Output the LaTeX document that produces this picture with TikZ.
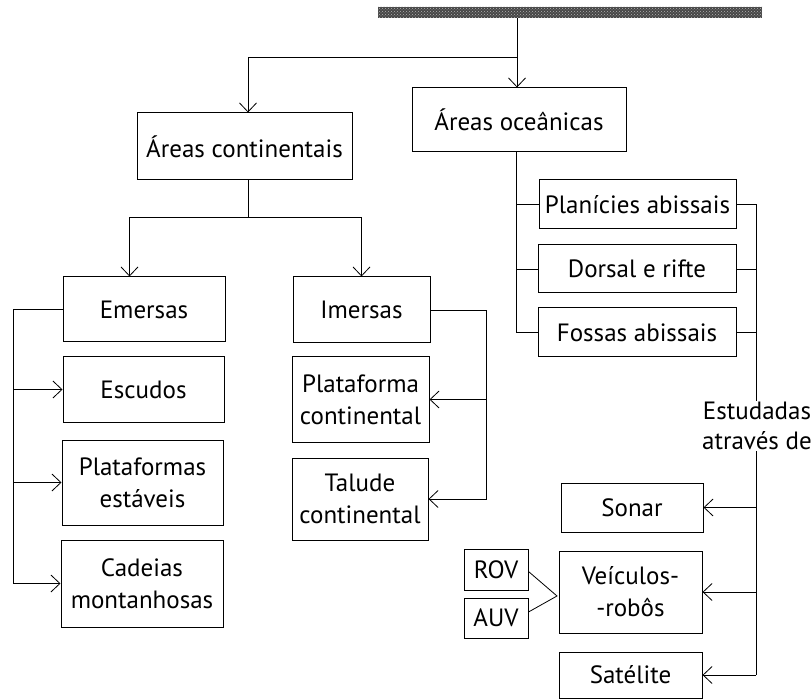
\documentclass[tikz,border=0pt]{standalone}
\usepackage{fontspec}
\setmainfont{PT Sans}
\usetikzlibrary{arrows.meta,calc,patterns}
\begin{document}
\begin{tikzpicture}[x=1pt,y=-1pt,
  box/.style={draw, line width=1pt, inner sep=0pt, align=center,
    font=\fontsize{25}{32}\selectfont},
  link/.style={line width=0.8pt},
  arr/.style={link, -{Straight Barb[length=9pt,width=17pt,line width=0.8pt]}},
  label/.style={align=center, inner sep=1pt, fill=white,
    font=\fontsize{25}{30}\selectfont}
]
\useasboundingbox (0,0) rectangle (811,700);

% title bar
\node (bar) at (570,12.5) [minimum width=384pt, minimum height=11pt, inner sep=0pt,
  fill=black!72, postaction={pattern=crosshatch dots, pattern color=black!30}] {};

% first level
\node (cont)  at (244.5,146.5) [box, minimum width=215pt, minimum height=67pt] {Áreas continentais};
\node (ocean) at (519,120)     [box, minimum width=214pt, minimum height=64pt] {Áreas oceânicas};

% continental areas
\node (emersas)  at (144,309.5)   [box, minimum width=162pt, minimum height=65pt] {Emersas};
\node (escudos)  at (143.5,389.5) [box, minimum width=161pt, minimum height=65pt] {Escudos};
\node (platest)  at (142.5,482.5) [box, minimum width=161pt, minimum height=85pt] {Plataformas\\estáveis};
\node (cadeias)  at (142,583.5)   [box, minimum width=162pt, minimum height=87pt] {Cadeias\\montanhosas};
\node (imersas)  at (361.5,310)   [box, minimum width=137pt, minimum height=66pt] {Imersas};
\node (platcont) at (360.5,399.5) [box, minimum width=137pt, minimum height=85pt] {Plataforma\\continental};
\node (talude)   at (360,499)     [box, minimum width=136pt, minimum height=82pt] {Talude\\continental};

% oceanic areas
\node (planicies) at (637.5,204.5) [box, minimum width=197pt, minimum height=49pt] {Planícies abissais};
\node (dorsal)    at (637,269)     [box, minimum width=198pt, minimum height=48pt] {Dorsal e rifte};
\node (fossas)    at (637,332.5)   [box, minimum width=198pt, minimum height=49pt] {Fossas abissais};

% survey methods
\node (sonar)    at (632,507.5)   [box, minimum width=142pt, minimum height=49pt] {Sonar};
\node (veiculos) at (630.5,592)   [box, minimum width=143pt, minimum height=82pt] {Veículos-\\-robôs};
\node (satelite) at (630.5,675)   [box, minimum width=143pt, minimum height=46pt] {Satélite};
\node (rov) at (496,569.5) [box, minimum width=64pt, minimum height=41pt] {ROV};
\node (auv) at (496,618)   [box, minimum width=64pt, minimum height=40pt] {AUV};

% junction points
\coordinate (j0) at (517,57);
\coordinate (j1) at (248,217);
\coordinate (lx) at (13,0);
\coordinate (ix) at (486,0);
\coordinate (ox) at (516,0);
\coordinate (rx) at (756,0);
\coordinate (tip) at (557,596);

% top split
\draw[link] (j0 |- bar.south) -- (j0);
\draw[arr] (j0) -- (j0 |- ocean.north);
\draw[arr] (j0) -| (j1 |- cont.north);

% continental split
\draw[link] (j1 |- cont.south) -- (j1);
\draw[arr] (j1) -| ([xshift=67pt]emersas.north west);
\draw[arr] (j1) -| (imersas.north);

% emerged branch
\draw[arr] (emersas.west) -- (emersas.west -| lx) |- (cadeias.west);
\draw[arr] (escudos.west -| lx) -- (escudos.west);
\draw[arr] (platest.west -| lx) -- (platest.west);

% submerged branch
\draw[arr] (imersas.east) -- (imersas.east -| ix) |- (talude.east);
\draw[arr] (platcont.east -| ix) -- (platcont.east);

% oceanic branch
\draw[link] (ox |- ocean.south) |- (fossas.west);
\draw[link] (planicies.west -| ox) -- (planicies.west);
\draw[link] (dorsal.west -| ox) -- (dorsal.west);

% methods branch
\draw[link] (planicies.east) -- (planicies.east -| rx) -- (satelite.east -| rx);
\draw[link] (dorsal.east) -- (dorsal.east -| rx);
\draw[link] (fossas.east) -- (fossas.east -| rx);
\draw[arr] (sonar.east -| rx) -- (sonar.east);
\draw[arr] (veiculos.east -| rx) -- (veiculos.east);
\draw[arr] (satelite.east -| rx) -- (satelite.east);
\node (study) at (757,426) [label] {Estudadas\\através de};

% ROV / AUV bracket
\draw[link] ([yshift=-2pt]rov.east) -- (tip) -- ([yshift=6pt]auv.east);
\end{tikzpicture}
\end{document}
